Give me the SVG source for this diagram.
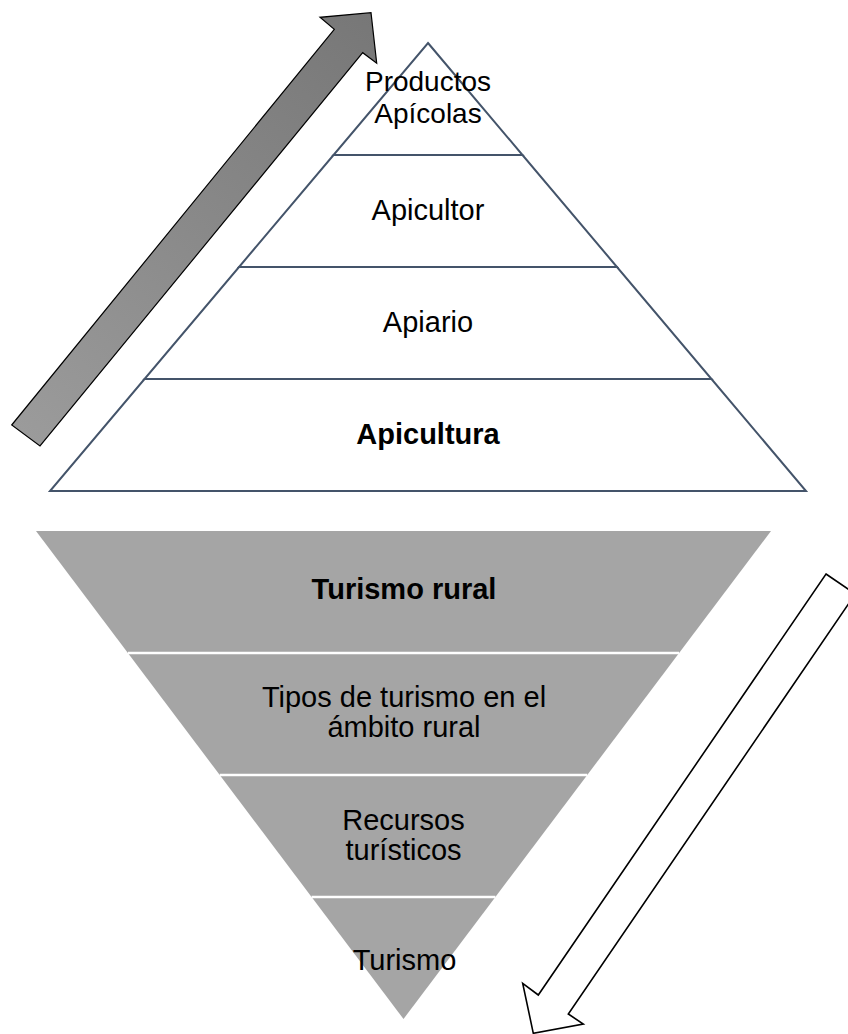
<svg xmlns="http://www.w3.org/2000/svg" width="848" height="1034" viewBox="0 0 848 1034">
  <style>
    .up { fill: #ffffff; stroke: #44546A; stroke-width: 2; stroke-linejoin: miter; }
    .down { fill: #A5A5A5; stroke: none; }
    .sep { stroke: #ffffff; stroke-width: 2.5; }
    .t { font-family: "Liberation Sans", Arial, sans-serif; font-size: 29px; fill: #000000; text-anchor: middle; }
    .s { font-size: 28px; }
    .b { font-weight: bold; }
  </style>
  <defs>
    <linearGradient id="gUp" gradientUnits="userSpaceOnUse" x1="26" y1="436" x2="371" y2="13">
      <stop offset="0" stop-color="#9b9b9b"/>
      <stop offset="1" stop-color="#777777"/>
    </linearGradient>
  </defs>
  <rect width="848" height="1034" fill="#ffffff"/>

  <!-- Upper pyramid -->
  <g id="productos-apicolas">
    <polygon class="up" points="428,43 522.5,155 333.5,155"/>
    <text class="t s" x="428" y="90.5">Productos</text>
    <text class="t s" x="428" y="122.5">Apícolas</text>
  </g>
  <g id="apicultor">
    <polygon class="up" points="333.5,155 522.5,155 617,267 239,267"/>
    <text class="t" x="428" y="220">Apicultor</text>
  </g>
  <g id="apiario">
    <polygon class="up" points="239,267 617,267 711.5,379 144.5,379"/>
    <text class="t" x="428" y="331.5">Apiario</text>
  </g>
  <g id="apicultura">
    <polygon class="up" points="144.5,379 711.5,379 806,491 50,491"/>
    <text class="t b" x="428" y="444">Apicultura</text>
  </g>

  <!-- Lower inverted pyramid -->
  <g id="turismo-rural">
    <polygon class="down" points="36,531 771,531 679.1,653 127.9,653"/>
    <text class="t b" x="404" y="599">Turismo rural</text>
  </g>
  <g id="tipos-turismo">
    <polygon class="down" points="127.9,653 679.1,653 587.25,775 219.75,775"/>
    <text class="t" x="404" y="707">Tipos de turismo en el</text>
    <text class="t" x="404" y="737">ámbito rural</text>
  </g>
  <g id="recursos-turisticos">
    <polygon class="down" points="219.75,775 587.25,775 495.4,897 311.6,897"/>
    <text class="t" x="403.5" y="830">Recursos</text>
    <text class="t" x="403.5" y="860">turísticos</text>
  </g>
  <g id="turismo">
    <polygon class="down" points="311.6,897 495.4,897 403.5,1019"/>
    <text class="t" x="404.5" y="970">Turismo</text>
  </g>

  <!-- Connectors (separators and arrows) -->
  <g id="connectors">
    <line class="sep" x1="127.9" y1="653" x2="679.1" y2="653"/>
    <line class="sep" x1="219.75" y1="775" x2="587.25" y2="775"/>
    <line class="sep" x1="311.6" y1="897" x2="495.4" y2="897"/>
    <polygon id="arrow-up" points="11.7,425 334.3,29.3 320,17.3 371,12.7 376.7,63.3 362.7,52.7 40,446" fill="url(#gUp)" stroke="#000000" stroke-width="1.2" stroke-linejoin="miter"/>
    <polygon id="arrow-down" points="826,574 855.3,594 568.3,1014 583.3,1024 533.3,1033.3 522.7,983.3 538.3,995" fill="#ffffff" stroke="#000000" stroke-width="1.6" stroke-linejoin="miter"/>
  </g>
</svg>
